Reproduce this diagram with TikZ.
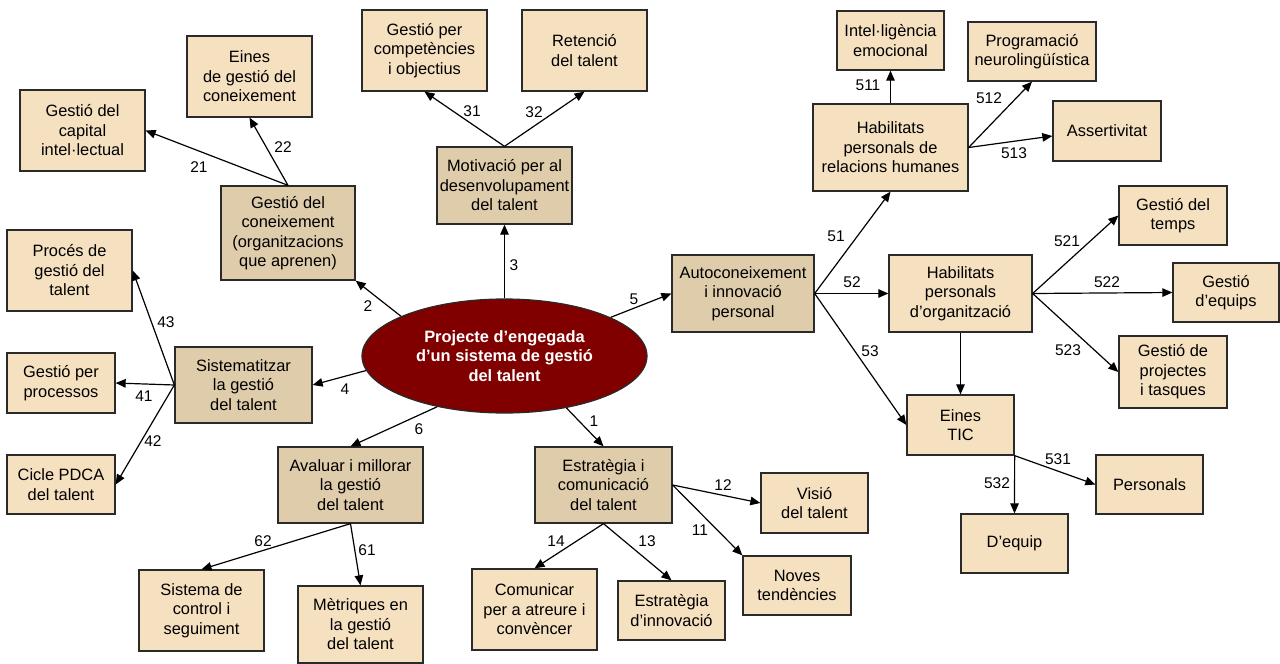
\documentclass[tikz,border=0pt]{standalone}
\usepackage{fontspec}
\setmainfont{Liberation Sans}
\usetikzlibrary{arrows.meta,shapes.geometric}
\definecolor{boxlight}{HTML}{F5E0C0}
\definecolor{boxdark}{HTML}{DFCCAA}
\definecolor{hubred}{HTML}{800000}
\definecolor{frame}{HTML}{2A2A2A}

\begin{document}
\begin{tikzpicture}[x=1pt,y=-1pt,
  lbox/.style={draw=frame, line width=1.3pt, fill=boxlight, align=center,
    inner sep=0pt, font=\fontsize{16.4}{19.5}\selectfont},
  bx/.style n args={2}{lbox, minimum width=#1, minimum height=#2},
  dbx/.style n args={2}{bx={#1}{#2}, fill=boxdark},
  arr/.style={-{Triangle[length=10pt,width=8.5pt]}, line width=1.2pt, black},
  lbl/.style={inner sep=0pt, font=\fontsize{15.5}{18}\selectfont}]
\useasboundingbox (0,0) rectangle (1280,664);

% central topic
\node[ellipse, draw=frame, line width=1.2pt, fill=hubred, text=white,
  font=\bfseries\fontsize{16.4}{19.5}\selectfont, align=center,
  minimum width=285, minimum height=114, inner sep=0pt] (hub) at (504.5,356)
  {Projecte d’engegada\\d’un sistema de gestió\\del talent};

% first level
\node[dbx={134}{94}] (gc) at (288,233) {Gestió del\\coneixement\\(organitzacions\\que aprenen)};
\node[dbx={135}{77}] (mot) at (504.5,185.5) {Motivació per al\\desenvolupament\\del talent};
\node[dbx={142}{77}] (auto) at (743,293.5) {Autoconeixement\\i innovació\\personal};
\node[dbx={137}{76}] (sis) at (243.5,385) {Sistematitzar\\la gestió\\del talent};
\node[dbx={145}{76}] (aval) at (350.5,485) {Avaluar i millorar\\la gestió\\del talent};
\node[dbx={137}{76}] (estr) at (603.5,485) {Estratègia i\\comunicació\\del talent};

% second level
\node[bx={125}{81}] (cap) at (82.5,130.5) {Gestió del\\capital\\intel·lectual};
\node[bx={125}{81}] (eines) at (249.5,76.5) {Eines\\de gestió del\\coneixement};
\node[bx={125}{81}] (comp) at (424.5,50.5) {Gestió per\\competències\\i objectius};
\node[bx={125}{81}] (ret) at (584.5,50.5) {Retenció\\del talent};
\node[bx={155}{87}] (hrel) at (890.5,147.5) {Habilitats\\personals de\\relacions humanes};
\node[bx={143}{77}] (horg) at (960.5,293.5) {Habilitats\\personals\\d’organització};
\node[bx={107}{60}] (tic) at (960.5,425) {Eines\\TIC};
\node[bx={125}{81}] (proc) at (69.5,270.5) {Procés de\\gestió del\\talent};
\node[bx={108}{60}] (gpp) at (61,383) {Gestió per\\processos};
\node[bx={108}{59}] (pdca) at (61,484.5) {Cicle PDCA\\del talent};
\node[bx={125}{81}] (sctl) at (201.5,610.5) {Sistema de\\control i\\seguiment};
\node[bx={125}{77}] (met) at (360.5,624.5) {Mètriques en\\la gestió\\del talent};
\node[bx={107}{60}] (vis) at (814.5,503) {Visió\\del talent};
\node[bx={108}{59}] (nov) at (797,585.5) {Noves\\tendències};
\node[bx={125}{81}] (com) at (534.5,609.5) {Comunicar\\per a atreure i\\convèncer};
\node[bx={107}{59}] (inn) at (671.5,610.5) {Estratègia\\d’innovació};

% third level
\node[bx={107}{59}] (intel) at (890.5,40.5) {Intel·ligència\\emocional};
\node[bx={128}{59}] (prog) at (1032,51.5) {Programació\\neurolingüística};
\node[bx={108}{60}] (asr) at (1107,131) {Assertivitat};
\node[bx={108}{59}] (temps) at (1173,215.5) {Gestió del\\temps};
\node[bx={106}{59}] (equ) at (1226,292.5) {Gestió\\d’equips};
\node[bx={108}{72}] (proj) at (1173,372) {Gestió de\\projectes\\i tasques};
\node[bx={107}{59}] (pers) at (1149.5,484.5) {Personals};
\node[bx={107}{59}] (deq) at (1014.5,543.5) {D’equip};

% connectors from the centre
\draw[arr] (hub.159) -- (gc.south east);
\draw[arr] (hub.90) -- (mot.south);
\draw[arr] (hub.20.8) -- (auto.west);
\draw[arr] (hub.186.6) -- (sis.east);
\draw[arr] (hub.217.6) -- (aval.north);
\draw[arr] (hub.320.2) -- (estr.north);

% branch 2
\draw[arr] (gc.north) -- (cap.east);
\draw[arr] (gc.north) -- (eines.south);
% branch 3
\draw[arr] (mot.north) -- (comp.south);
\draw[arr] (mot.north) -- (ret.south);
% branch 4
\draw[arr] (sis.west) -- (proc.east);
\draw[arr] (sis.west) -- (gpp.east);
\draw[arr] (sis.west) -- (pdca.east);
% branch 6
\draw[arr] (aval.south) -- (sctl.north);
\draw[arr] (aval.south) -- (met.north);
% branch 1
\draw[arr] (estr.east) -- (vis.west);
\draw[arr] (estr.east) -- (nov.north west);
\draw[arr] (estr.south) -- (com.north);
\draw[arr] (estr.south) -- (inn.north);
% branch 5
\draw[arr] (auto.east) -- (hrel.south);
\draw[arr] (auto.east) -- (horg.west);
\draw[arr] (auto.east) -- (tic.west);
\draw[arr] (hrel.north) -- (intel.south);
\draw[arr] (hrel.east) -- (prog.south);
\draw[arr] (hrel.east) -- ([yshift=-5pt]asr.west);
\draw[arr] (horg.east) -- (temps.west);
\draw[arr] (horg.east) -- (equ.west);
\draw[arr] (horg.east) -- (proj.west);
\draw[arr] (horg.south) -- (tic.north);
\draw[arr] (tic.south east) -- (pers.west);
\draw[arr] (tic.south east) -- (deq.north);

% connector numbers
\node[lbl] (n1) at (594,421) {1};
\node[lbl] (n2) at (368,306) {2};
\node[lbl] (n3) at (514,265) {3};
\node[lbl] (n4) at (345,389) {4};
\node[lbl] (n5) at (634,299) {5};
\node[lbl] (n6) at (419,429) {6};
\node[lbl] (n11) at (700,530) {11};
\node[lbl] (n12) at (723,485) {12};
\node[lbl] (n13) at (647,541) {13};
\node[lbl] (n14) at (556,541) {14};
\node[lbl] (n21) at (199,167) {21};
\node[lbl] (n22) at (283,147) {22};
\node[lbl] (n31) at (472,111) {31};
\node[lbl] (n32) at (534,112) {32};
\node[lbl] (n41) at (144,396) {41};
\node[lbl] (n42) at (153,441) {42};
\node[lbl] (n43) at (166,322) {43};
\node[lbl] (n51) at (836,236) {51};
\node[lbl] (n52) at (852,282) {52};
\node[lbl] (n53) at (870,351) {53};
\node[lbl] (n61) at (367,550) {61};
\node[lbl] (n62) at (263,541) {62};
\node[lbl] (n511) at (868,85) {511};
\node[lbl] (n512) at (989,98) {512};
\node[lbl] (n513) at (1014,153) {513};
\node[lbl] (n521) at (1067,241) {521};
\node[lbl] (n522) at (1107,282) {522};
\node[lbl] (n523) at (1068,350) {523};
\node[lbl] (n531) at (1058,459) {531};
\node[lbl] (n532) at (997,483) {532};
\end{tikzpicture}
\end{document}
